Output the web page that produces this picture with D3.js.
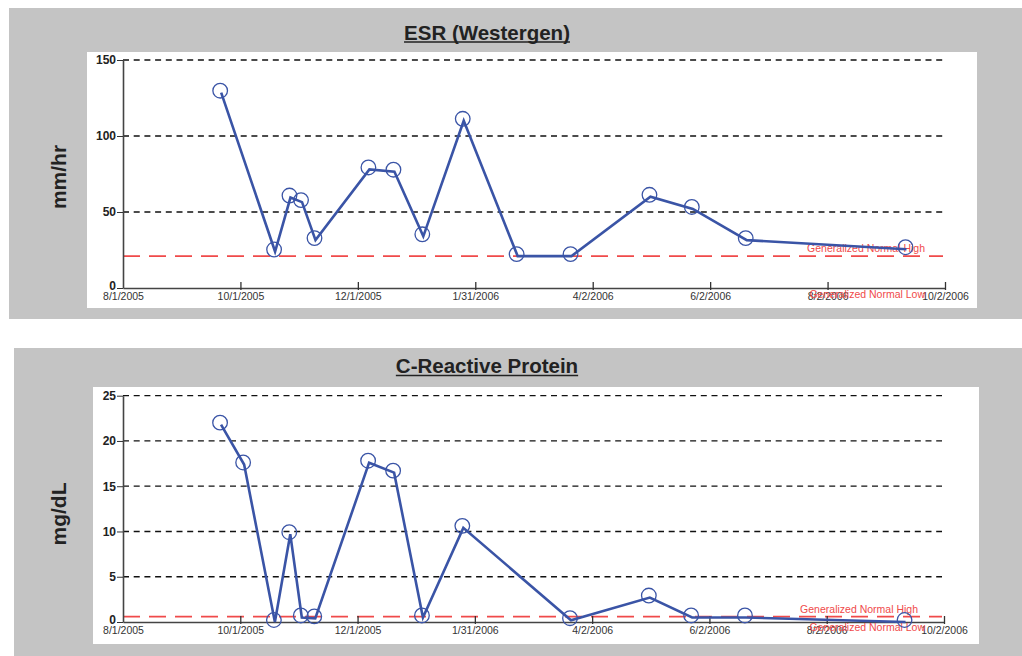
<!DOCTYPE html>
<html>
<head>
<meta charset="utf-8">
<script src="https://cdn.jsdelivr.net/npm/d3@7"></script>
<style>
  body { margin: 0; background: #fff; }
  svg { font-family: "Liberation Sans", Arial, sans-serif; display: block; }
</style>
</head>
<body>
<div id="charts"></div>
<script>
// x axis tick dates (shared by both charts)
var tickDates = ["8/1/2005", "10/1/2005", "12/1/2005", "1/31/2006", "4/2/2006", "6/2/2006", "8/2/2006", "10/2/2006"];

// ESR (Westergen), mm/hr
var esrDates = ["9/21/2005", "10/19/2005", "10/27/2005", "11/2/2005", "11/9/2005", "12/7/2005", "12/20/2005",
                "1/4/2006", "1/25/2006", "2/22/2006", "3/22/2006", "5/2/2006", "5/24/2006", "6/21/2006", "9/12/2006"];
var esrValues = [128.5, 24, 59.5, 56.5, 31.5, 78, 76.5, 34, 110, 21, 21, 60, 52, 31.5, 25.5];
var esrTicks = [0, 50, 100, 150];
var esrNormal = {high: 21, low: 0};

// C-Reactive Protein, mg/dL
var crpDates = ["9/21/2005", "10/3/2005", "10/19/2005", "10/27/2005", "11/2/2005", "11/9/2005", "12/7/2005", "12/20/2005",
                "1/4/2006", "1/25/2006", "3/22/2006", "5/2/2006", "5/24/2006", "6/21/2006", "9/12/2006"];
var crpValues = [21.8, 17.4, 0, 9.7, 0.5, 0.4, 17.6, 16.5, 0.5, 10.4, 0.2, 2.7, 0.5, 0.5, 0];
var crpTicks = [0, 5, 10, 15, 20, 25];
var crpNormal = {high: 0.6, low: 0};

var parseDate = d3.timeParse("%m/%d/%Y");
var fmtDate = d3.timeFormat("%-m/%-d/%Y");

var blue = "#3a54a6", red = "#f04a4a";

var svg = d3.select("#charts")
  .append("svg")
    .attr("width", 1022)
    .attr("height", 656);

function drawChart(c) {
  // gray panel + white plot area
  svg.append("rect")
    .attr("x", c.panel[0]).attr("y", c.panel[1])
    .attr("width", c.panel[2]).attr("height", c.panel[3])
    .attr("fill", "#c4c4c4");
  svg.append("rect")
    .attr("x", c.plot[0]).attr("y", c.plot[1])
    .attr("width", c.plot[2]).attr("height", c.plot[3])
    .attr("fill", "#fff");

  // title with underline
  var t = svg.append("text")
    .attr("x", 487).attr("y", c.titleY)
    .attr("text-anchor", "middle")
    .attr("font-size", "20.5px")
    .attr("font-weight", "bold")
    .attr("fill", "#222")
    .text(c.title);
  var tw = t.node().getComputedTextLength();
  svg.append("line")
    .attr("x1", 487 - tw / 2).attr("x2", 487 + tw / 2)
    .attr("y1", c.titleY + 2.5).attr("y2", c.titleY + 2.5)
    .attr("stroke", "#222").attr("stroke-width", 1.5);

  // y label
  svg.append("text")
    .attr("transform", "translate(66," + c.ylabelY + ") rotate(-90)")
    .attr("text-anchor", "middle")
    .attr("font-size", "21px")
    .attr("font-weight", "bold")
    .attr("fill", "#222")
    .text(c.ylabel);

  var g = svg.append("g")
    .attr("transform", "translate(" + c.left + "," + c.top + ")");

  var x = d3.scaleTime()
    .domain([parseDate(tickDates[0]), parseDate(tickDates[tickDates.length - 1])])
    .range([0, c.width]);
  var y = d3.scaleLinear()
    .domain([0, c.ticks[c.ticks.length - 1]])
    .range([c.height, 0]);

  // dashed gridlines
  g.append("g")
    .selectAll("line")
    .data(c.ticks.slice(1))
    .enter()
    .append("line")
      .attr("x1", 0).attr("x2", c.width - 2)
      .attr("y1", d => y(d)).attr("y2", d => y(d))
      .attr("stroke", "#111")
      .attr("stroke-width", 1.3)
      .attr("stroke-dasharray", "6,4.7");

  // normal high line (low line sits under the x axis)
  g.append("line")
    .attr("x1", 0).attr("x2", c.width - 2)
    .attr("y1", y(c.normal.high)).attr("y2", y(c.normal.high))
    .attr("stroke", red)
    .attr("stroke-width", 1.8)
    .attr("stroke-dasharray", "17,9");

  // x axis
  var xAxis = g.append("g")
    .attr("transform", "translate(0," + c.height + ")")
    .call(d3.axisBottom(x)
      .tickValues(tickDates.map(parseDate))
      .tickFormat(fmtDate)
      .tickSizeInner(-6)
      .tickSizeOuter(0)
      .tickPadding(5));
  xAxis.select(".domain").attr("stroke", "#444").attr("stroke-width", 1.6);
  xAxis.selectAll(".tick line")
    .attr("y1", 2)
    .attr("stroke", "#333").attr("stroke-width", 1.3)
    .attr("opacity", (d, i) => i === 0 ? 0 : 1);
  xAxis.selectAll(".tick text")
    .attr("font-size", "10.5px")
    .attr("fill", "#333")
    .attr("font-family", "'Liberation Sans', Arial, sans-serif");

  // y axis
  var yAxis = g.append("g")
    .call(d3.axisLeft(y)
      .tickValues(c.ticks)
      .tickSizeInner(6)
      .tickSizeOuter(0)
      .tickPadding(1));
  yAxis.select(".domain").attr("stroke", "#444").attr("stroke-width", 1.6);
  yAxis.selectAll(".tick line").attr("stroke", "#333");
  yAxis.selectAll(".tick text")
    .attr("font-size", "12px")
    .attr("font-weight", "bold")
    .attr("fill", "#222")
    .attr("font-family", "'Liberation Sans', Arial, sans-serif")
    .attr("dy", d => d === 0 ? "0.1em" : "0.32em");

  // normal labels
  g.append("text")
    .attr("x", c.hiLabelEnd - c.left).attr("y", y(c.normal.high) - 4)
    .attr("text-anchor", "end")
    .attr("font-size", "10.5px")
    .attr("fill", red)
    .text("Generalized Normal High");
  g.append("text")
    .attr("x", 925 - c.left).attr("y", y(c.normal.low) + 9.5)
    .attr("text-anchor", "end")
    .attr("font-size", "10.5px")
    .attr("fill", red)
    .text("Generalized Normal Low");

  // series
  var pts = c.dates.map((d, i) => ({date: parseDate(d), value: c.values[i]}));
  g.append("path")
    .datum(pts)
    .attr("fill", "none")
    .attr("stroke", blue)
    .attr("stroke-width", 2.6)
    .attr("d", d3.line().x(d => x(d.date)).y(d => y(d.value)));

  g.append("g")
    .attr("transform", "translate(-1,-2)")
    .selectAll("circle")
    .data(pts)
    .enter()
    .append("circle")
      .attr("cx", d => x(d.date))
      .attr("cy", d => y(d.value))
      .attr("r", 7.3)
      .attr("fill", "none")
      .attr("stroke", blue)
      .attr("stroke-width", 1.3);
}

drawChart({
  title: "ESR (Westergen)", titleY: 39.5, ylabel: "mm/hr", ylabelY: 177,
  panel: [9, 8, 1013, 311], plot: [87, 52, 890, 256],
  left: 123, top: 60, width: 822, height: 228,
  dates: esrDates, values: esrValues, ticks: esrTicks, normal: esrNormal, hiLabelEnd: 925
});

drawChart({
  title: "C-Reactive Protein", titleY: 373, ylabel: "mg/dL", ylabelY: 514,
  panel: [14, 348, 1008, 308], plot: [93, 387, 886, 257],
  left: 123, top: 395.7, width: 821, height: 226.3,
  dates: crpDates, values: crpValues, ticks: crpTicks, normal: crpNormal, hiLabelEnd: 918
});
</script>
</body>
</html>
